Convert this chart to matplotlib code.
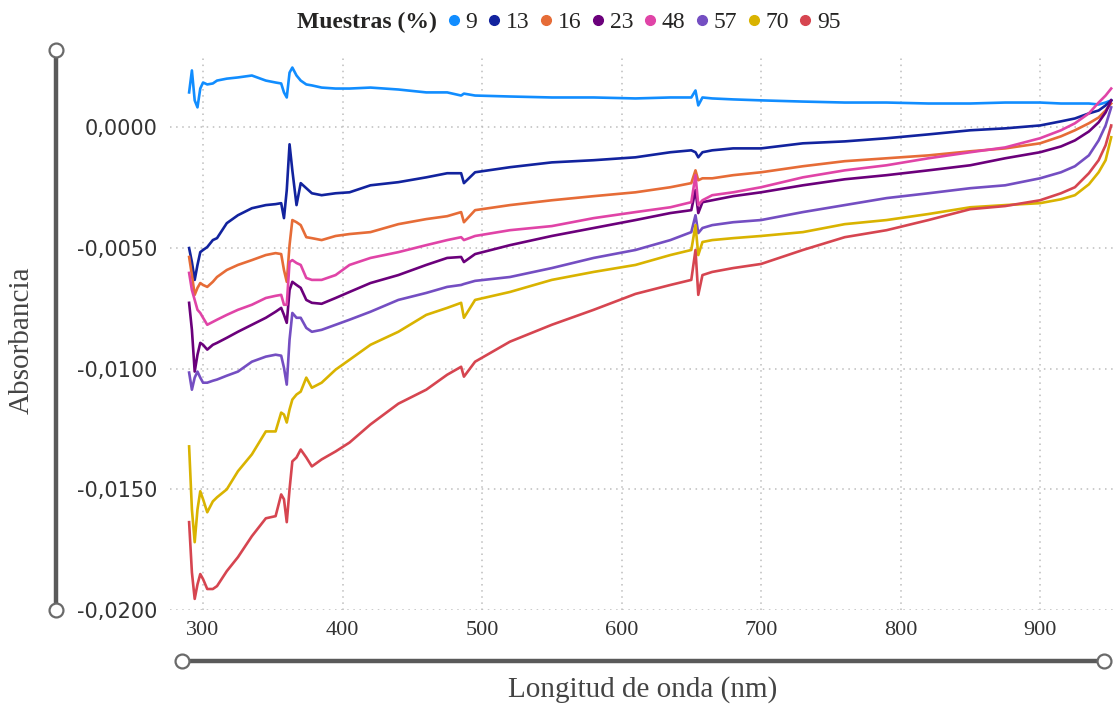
import numpy as np
import matplotlib
matplotlib.use("Agg")
import matplotlib.pyplot as plt
from matplotlib.ticker import FuncFormatter, FixedLocator
from matplotlib.lines import Line2D

# longitudes de onda (nm)
wl = [290, 292, 294, 296, 298, 300, 303, 307, 310, 317, 325, 335, 345, 352, 356,
      358, 360, 362, 364, 367, 370, 374, 378, 385, 395, 405, 420, 440, 460, 475,
      485, 487, 495, 520, 550, 580, 610, 635, 650, 653, 655, 658, 665, 680, 700,
      730, 760, 790, 820, 850, 875, 900, 915, 925, 935, 942, 947, 951]

muestras = ["9", "13", "16", "23", "48", "57", "70", "95"]
colores = ["#118DFF", "#12239E", "#E66C37", "#6B007B", "#E044A7", "#744EC2", "#D9B300", "#D64550"]

m09 = [0.00145, 0.00236, 0.00112, 0.00083, 0.00161, 0.00186, 0.00178, 0.00182, 0.00194, 0.00202,
       0.00207, 0.00215, 0.00194, 0.00186, 0.00182, 0.00145, 0.00124, 0.00227, 0.00248, 0.00215,
       0.00194, 0.00178, 0.00174, 0.00165, 0.00161, 0.00161, 0.00165, 0.00157, 0.00145, 0.00145,
       0.00132, 0.00140, 0.00132, 0.00128, 0.00124, 0.00124, 0.00120, 0.00124, 0.00124, 0.00153,
       0.00091, 0.00124, 0.00120, 0.00116, 0.00112, 0.00107, 0.00103, 0.00103, 0.00099, 0.00099,
       0.00103, 0.00103, 0.00099, 0.00099, 0.00099, 0.00095, 0.00103, 0.00112]
m13 = [-0.00500, -0.00558, -0.00632, -0.00570, -0.00517, -0.00508, -0.00496, -0.00467, -0.00459, -0.00397,
       -0.00364, -0.00335, -0.00322, -0.00318, -0.00314, -0.00376, -0.00260, -0.00070, -0.00178, -0.00322,
       -0.00231, -0.00252, -0.00273, -0.00281, -0.00273, -0.00269, -0.00240, -0.00227, -0.00207, -0.00190,
       -0.00190, -0.00231, -0.00186, -0.00165, -0.00145, -0.00136, -0.00124, -0.00103, -0.00095, -0.00103,
       -0.00124, -0.00103, -0.00095, -0.00087, -0.00087, -0.00066, -0.00058, -0.00045, -0.00029, -0.00012,
       -0.00004, 0.00008, 0.00025, 0.00037, 0.00058, 0.00070, 0.00091, 0.00112]
m16 = [-0.00537, -0.00612, -0.00694, -0.00665, -0.00645, -0.00653, -0.00661, -0.00640, -0.00620, -0.00591,
       -0.00570, -0.00550, -0.00529, -0.00521, -0.00525, -0.00591, -0.00640, -0.00488, -0.00384, -0.00393,
       -0.00405, -0.00455, -0.00459, -0.00467, -0.00450, -0.00442, -0.00434, -0.00401, -0.00380, -0.00368,
       -0.00351, -0.00393, -0.00343, -0.00322, -0.00302, -0.00285, -0.00269, -0.00248, -0.00231, -0.00178,
       -0.00219, -0.00211, -0.00211, -0.00198, -0.00186, -0.00161, -0.00140, -0.00128, -0.00116, -0.00099,
       -0.00087, -0.00066, -0.00037, -0.00012, 0.00017, 0.00041, 0.00070, 0.00099]
m23 = [-0.00727, -0.00839, -0.01012, -0.00942, -0.00893, -0.00901, -0.00921, -0.00901, -0.00893, -0.00872,
       -0.00847, -0.00818, -0.00789, -0.00764, -0.00748, -0.00777, -0.00810, -0.00674, -0.00640, -0.00653,
       -0.00665, -0.00715, -0.00727, -0.00731, -0.00707, -0.00682, -0.00645, -0.00612, -0.00570, -0.00541,
       -0.00537, -0.00558, -0.00525, -0.00488, -0.00450, -0.00417, -0.00384, -0.00355, -0.00343, -0.00260,
       -0.00355, -0.00310, -0.00302, -0.00285, -0.00269, -0.00240, -0.00215, -0.00198, -0.00178, -0.00157,
       -0.00128, -0.00103, -0.00079, -0.00054, -0.00017, 0.00021, 0.00062, 0.00112]
m48 = [-0.00603, -0.00674, -0.00715, -0.00756, -0.00769, -0.00789, -0.00818, -0.00806, -0.00797, -0.00777,
       -0.00756, -0.00735, -0.00707, -0.00698, -0.00694, -0.00735, -0.00735, -0.00558, -0.00550, -0.00562,
       -0.00570, -0.00624, -0.00632, -0.00632, -0.00612, -0.00570, -0.00541, -0.00517, -0.00488, -0.00467,
       -0.00455, -0.00467, -0.00450, -0.00426, -0.00409, -0.00376, -0.00351, -0.00331, -0.00310, -0.00198,
       -0.00322, -0.00302, -0.00281, -0.00269, -0.00248, -0.00207, -0.00178, -0.00157, -0.00128, -0.00103,
       -0.00083, -0.00045, -0.00012, 0.00017, 0.00058, 0.00103, 0.00132, 0.00161]
m57 = [-0.01016, -0.01087, -0.01037, -0.01012, -0.01037, -0.01058, -0.01058, -0.01050, -0.01045, -0.01029,
       -0.01012, -0.00971, -0.00950, -0.00942, -0.00946, -0.00996, -0.01066, -0.00880, -0.00769, -0.00789,
       -0.00789, -0.00831, -0.00847, -0.00839, -0.00818, -0.00797, -0.00764, -0.00715, -0.00686, -0.00661,
       -0.00653, -0.00649, -0.00636, -0.00620, -0.00583, -0.00541, -0.00508, -0.00467, -0.00434, -0.00364,
       -0.00438, -0.00417, -0.00405, -0.00393, -0.00384, -0.00351, -0.00322, -0.00293, -0.00273, -0.00252,
       -0.00240, -0.00211, -0.00186, -0.00161, -0.00116, -0.00054, 0.00008, 0.00083]
m70 = [-0.01322, -0.01583, -0.01719, -0.01583, -0.01508, -0.01541, -0.01595, -0.01550, -0.01533, -0.01500,
       -0.01425, -0.01355, -0.01260, -0.01260, -0.01182, -0.01190, -0.01223, -0.01169, -0.01128, -0.01107,
       -0.01095, -0.01037, -0.01079, -0.01058, -0.01004, -0.00963, -0.00901, -0.00847, -0.00777, -0.00748,
       -0.00727, -0.00789, -0.00715, -0.00682, -0.00632, -0.00599, -0.00570, -0.00529, -0.00508, -0.00405,
       -0.00529, -0.00475, -0.00467, -0.00459, -0.00450, -0.00434, -0.00401, -0.00384, -0.00359, -0.00331,
       -0.00322, -0.00314, -0.00298, -0.00281, -0.00236, -0.00186, -0.00136, -0.00041]
m95 = [-0.01636, -0.01844, -0.01954, -0.01894, -0.01851, -0.01872, -0.01913, -0.01913, -0.01901, -0.01839,
       -0.01781, -0.01694, -0.01620, -0.01611, -0.01521, -0.01541, -0.01636, -0.01500, -0.01384, -0.01368,
       -0.01335, -0.01368, -0.01405, -0.01376, -0.01343, -0.01306, -0.01231, -0.01145, -0.01087, -0.01025,
       -0.00992, -0.01033, -0.00971, -0.00888, -0.00818, -0.00756, -0.00690, -0.00653, -0.00632, -0.00508,
       -0.00694, -0.00612, -0.00599, -0.00583, -0.00566, -0.00508, -0.00455, -0.00426, -0.00384, -0.00339,
       -0.00326, -0.00302, -0.00273, -0.00248, -0.00190, -0.00136, -0.00074, 0.00008]

series = [m09, m13, m16, m23, m48, m57, m70, m95]

W, H = 1113, 708
fig = plt.figure(figsize=(W / 100, H / 100), dpi=100)
ax = fig.add_axes([170 / W, 1 - 610 / H, 1 - 170 / W, (610 - 55) / H])

for nombre, color, vals in zip(muestras, colores, series):
    ax.plot(wl, vals, color=color, lw=1.9, label=nombre, solid_joinstyle="round")

ax.set_xlim(276.3, 952.3)
ax.set_ylim(-0.0200, 0.0030)
ax.xaxis.set_major_locator(FixedLocator([300, 400, 500, 600, 700, 800, 900]))
ax.yaxis.set_major_locator(FixedLocator([0, -0.005, -0.010, -0.015, -0.020]))
ax.yaxis.set_major_formatter(FuncFormatter(lambda v, p: f"{v:.4f}".replace(".", ",").replace("-0,0000", "0,0000")))
ax.grid(True, color="#bdbdbd", linestyle=(0, (1, 3)), lw=1.1)
for s in ax.spines.values():
    s.set_visible(False)
ax.tick_params(length=0)
ax.tick_params(axis="y", pad=9, labelsize=15, labelcolor="#333333")
ax.tick_params(axis="x", pad=8, labelsize=16, labelcolor="#333333")
for t in ax.get_xticklabels():
    t.set_family("Liberation Serif")

# titulos de ejes
fig.text(22 / W, 1 - 340 / H, "Absorbancia", rotation=90, ha="center", va="center",
         family="Liberation Serif", size=21, color="#444444")
fig.text(643 / W, 1 - 690 / H, "Longitud de onda (nm)", ha="center", va="center",
         family="Liberation Serif", size=21, color="#444444")

# deslizadores de zoom
def px(x, y):
    return x / W, 1 - y / H

x0, y0 = px(56, 50)
x1, y1 = px(56, 610)
fig.add_artist(Line2D([x0, x1], [y0, y1], transform=fig.transFigure, color="#5a5a5a", lw=3.2))
fig.add_artist(Line2D([x0, x1], [y0, y1], transform=fig.transFigure, ls="", marker="o",
                      ms=10, mfc="white", mec="#6a6a6a", mew=1.6))
x0, y0 = px(182, 661)
x1, y1 = px(1104, 661)
fig.add_artist(Line2D([x0, x1], [y0, y1], transform=fig.transFigure, color="#5a5a5a", lw=3.2))
fig.add_artist(Line2D([x0, x1], [y0, y1], transform=fig.transFigure, ls="", marker="o",
                      ms=10, mfc="white", mec="#6a6a6a", mew=1.6))

# leyenda
fig.text(297 / W, 1 - 22 / H, "Muestras (%)", ha="left", va="center", family="Liberation Serif",
         weight="bold", size=17, color="#252423")
handles = [Line2D([], [], ls="", marker="o", ms=7, color=c) for c in colores]
fig.legend(handles, muestras, loc="center left", bbox_to_anchor=(448 / W, 1 - 22 / H), ncol=8,
           frameon=False, handlelength=0.5, handletextpad=0.25, columnspacing=0.45,
           borderpad=0, borderaxespad=0, prop={"family": "Liberation Serif", "size": 17},
           labelcolor="#252423")

fig.savefig("out.png", dpi=100)
